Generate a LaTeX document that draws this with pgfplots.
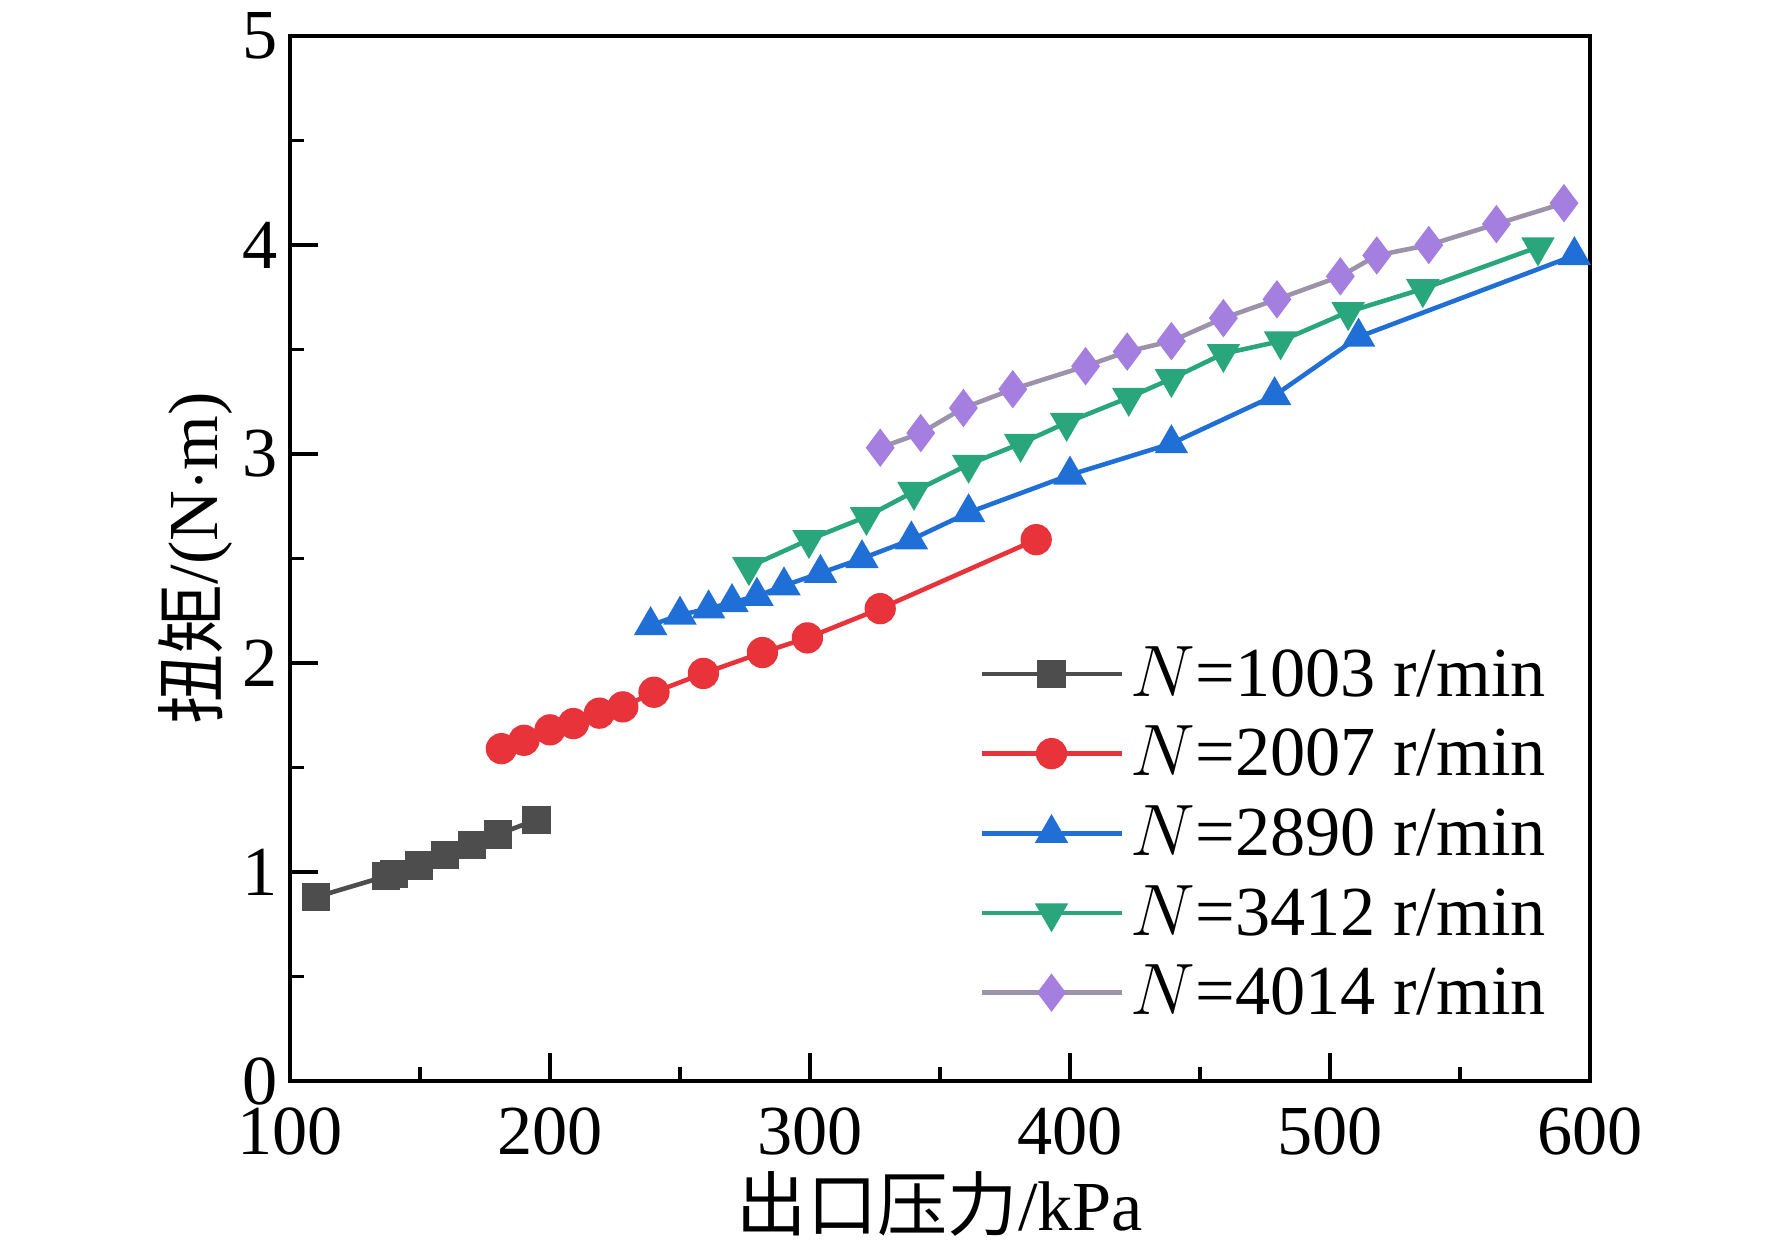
\documentclass[border=0pt]{standalone}
\usepackage{pgfplots}
\pgfplotsset{compat=1.18}
\usepackage{fontspec}
\setmainfont{Liberation Serif}
\newfontfamily\cjk{Noto Sans CJK SC}
\definecolor{c1}{HTML}{4D4D4D}
\definecolor{c2}{HTML}{E8333B}
\definecolor{c3}{HTML}{1F6FD6}
\definecolor{c4}{HTML}{2AA67C}
\definecolor{c5}{HTML}{A57FE0}
\definecolor{l5}{HTML}{9C92AA}
\begin{document}
\begin{tikzpicture}
\begin{axis}[at={(0,0)},anchor=origin,scale only axis,width=13cm,height=10.45cm,
xmin=100,xmax=600,ymin=0,ymax=5,xtick={100,200,...,600},ytick={0,1,...,5},
minor x tick num=1,minor y tick num=1,tick pos=left,tick align=inside,
major tick length=8pt,minor tick length=4pt,axis line style={line width=1.2pt},
every tick/.style={line width=1pt,black},
/pgf/number format/assume math mode=true,
tick label style={font=\fontsize{20}{24}\selectfont},
xticklabel style={yshift=-4pt},
xlabel={{\cjk 出口压力}/kPa},ylabel={{\cjk 扭矩}/(N$\cdot$m)},
label style={font=\fontsize{20}{24}\selectfont},
xlabel style={yshift=2pt},ylabel style={yshift=-4pt},
legend style={draw=none,fill=none,at={(0.98,0.43)},anchor=north east,font=\fontsize{20}{24}\selectfont,row sep=3pt},
legend cell align=left,
legend image code/.code={\draw[#1] (0cm,0cm) -- (1.4cm,0cm); \draw[#1,mark repeat=1] plot coordinates {(0.7cm,0cm)};},
every axis plot/.append style={line width=1.3pt}]
\addplot[c1,mark=square*,mark size=3.4pt] coordinates {(110,0.88)(137,0.98)(140,0.99)(149.6,1.03)(159.6,1.08)(170,1.13)(180,1.18)(194.8,1.25)};
\addlegendentry{$N$=1003 r/min}
\addplot[c2,mark=*,mark size=3.8pt] coordinates {(181.3,1.59)(190,1.63)(200,1.68)(209,1.71)(219,1.76)(228,1.79)(240,1.86)(259,1.95)(281.7,2.05)(299,2.12)(327,2.26)(387,2.59)};
\addlegendentry{$N$=2007 r/min}
\addplot[c3,mark=triangle*,mark size=4.2pt] coordinates {(238.7,2.18)(250,2.23)(261,2.26)(270,2.29)(279.6,2.32)(290,2.37)(304,2.43)(320,2.50)(339,2.59)(361,2.72)(400,2.90)(439,3.05)(478.7,3.28)(511,3.56)(594,3.95)};
\addlegendentry{$N$=2890 r/min}
\addplot[c4,mark=triangle*,mark size=4.2pt,mark options={rotate=180}] coordinates {(276.5,2.46)(299.6,2.59)(321.7,2.70)(340,2.82)(361,2.95)(381,3.05)(398.7,3.15)(422.6,3.27)(439,3.36)(459,3.48)(481,3.54)(507,3.68)(535.7,3.79)(580,3.99)};
\addlegendentry{$N$=3412 r/min}
\addplot[l5,mark=diamond*,mark size=4.4pt,mark options={c5,fill=c5}] coordinates {(327,3.03)(342.6,3.10)(359,3.22)(378,3.31)(406,3.42)(422,3.49)(439,3.54)(459,3.65)(479.6,3.74)(504,3.85)(518,3.95)(538,4.00)(564,4.10)(590,4.20)};
\addlegendentry{$N$=4014 r/min}
\end{axis}
\pgfresetboundingbox
\path (-2.9,-1.73) rectangle (14.82,10.81);
\end{tikzpicture}
\end{document}
